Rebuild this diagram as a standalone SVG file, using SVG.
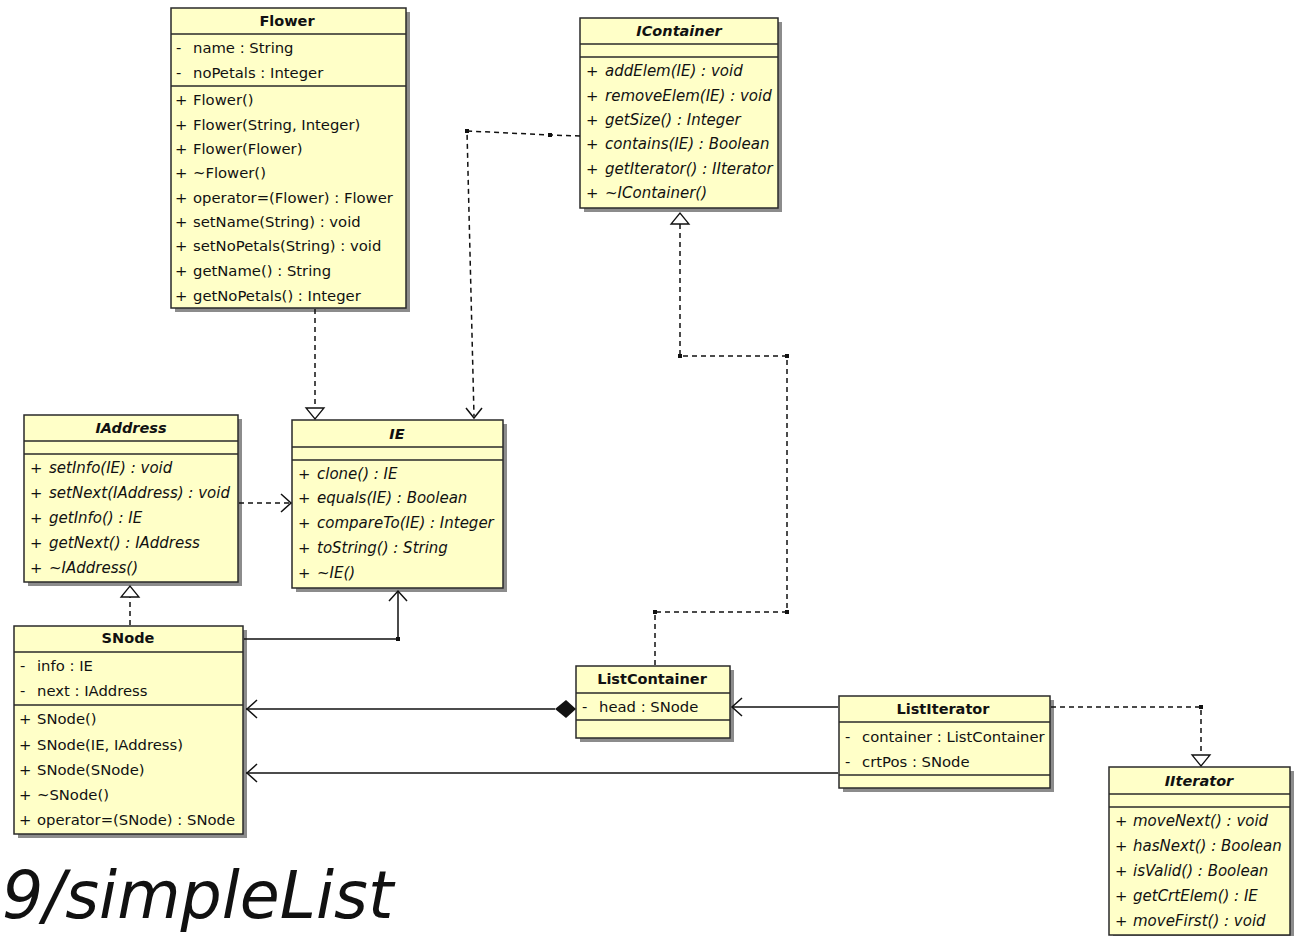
<svg xmlns="http://www.w3.org/2000/svg" width="1294" height="936" viewBox="0 0 1294 936">
<style>
.sh{fill:#8c8c8c}
.bx{fill:#ffffc8;stroke:#2a2a2a;stroke-width:1.5}
.sep{stroke:#2a2a2a;stroke-width:1.5}
text{font-family:"DejaVu Sans","Liberation Sans",sans-serif;font-size:14.8px;fill:#111}
.t{font-weight:bold;font-size:14.5px;text-anchor:middle}
.ti{font-weight:bold;font-style:italic;font-size:14.5px;text-anchor:middle}
.i{font-style:italic;font-size:15px}
.d{fill:none;stroke:#111;stroke-width:1.5;stroke-dasharray:5 4}
.s{fill:none;stroke:#111;stroke-width:1.5}
.tri{fill:#fff;stroke:#111;stroke-width:1.3}
.big{font-family:"DejaVu Sans",sans-serif;font-style:italic;font-size:65px}
</style>
<rect width="1294" height="936" fill="#fff"/>

<g id="Flower">
<rect class="sh" x="175" y="12" width="235" height="300"/>
<rect class="bx" x="171" y="8" width="235" height="300"/>
<line class="sep" x1="171" y1="34" x2="406" y2="34"/>
<line class="sep" x1="171" y1="86" x2="406" y2="86"/>
<text class="t" x="287" y="26">Flower</text>
<text x="176" y="53">-</text><text x="193" y="53">name : String</text>
<text x="176" y="78">-</text><text x="193" y="78">noPetals : Integer</text>
<text x="175" y="105">+</text><text x="193" y="105">Flower()</text>
<text x="175" y="130">+</text><text x="193" y="130">Flower(String, Integer)</text>
<text x="175" y="154">+</text><text x="193" y="154">Flower(Flower)</text>
<text x="175" y="178">+</text><text x="193" y="178">~Flower()</text>
<text x="175" y="203">+</text><text x="193" y="203">operator=(Flower) : Flower</text>
<text x="175" y="227">+</text><text x="193" y="227">setName(String) : void</text>
<text x="175" y="251">+</text><text x="193" y="251">setNoPetals(String) : void</text>
<text x="175" y="276">+</text><text x="193" y="276">getName() : String</text>
<text x="175" y="301">+</text><text x="193" y="301">getNoPetals() : Integer</text>
</g>

<g id="IContainer">
<rect class="sh" x="584" y="22" width="198" height="190"/>
<rect class="bx" x="580" y="18" width="198" height="190"/>
<line class="sep" x1="580" y1="44" x2="778" y2="44"/>
<line class="sep" x1="580" y1="57" x2="778" y2="57"/>
<text class="ti" x="679" y="36">IContainer</text>
<text x="586" y="76">+</text><text class="i" x="605" y="76">addElem(IE) : void</text>
<text x="586" y="101">+</text><text class="i" x="605" y="101">removeElem(IE) : void</text>
<text x="586" y="125">+</text><text class="i" x="605" y="125">getSize() : Integer</text>
<text x="586" y="149">+</text><text class="i" x="605" y="149">contains(IE) : Boolean</text>
<text x="586" y="174">+</text><text class="i" x="605" y="174">getIterator() : IIterator</text>
<text x="586" y="198">+</text><text class="i" x="605" y="198">~IContainer()</text>
</g>

<g id="IAddress">
<rect class="sh" x="28" y="419" width="214" height="167"/>
<rect class="bx" x="24" y="415" width="214" height="167"/>
<line class="sep" x1="24" y1="441" x2="238" y2="441"/>
<line class="sep" x1="24" y1="454" x2="238" y2="454"/>
<text class="ti" x="131" y="433">IAddress</text>
<text x="30" y="473">+</text><text class="i" x="49" y="473">setInfo(IE) : void</text>
<text x="30" y="498">+</text><text class="i" x="49" y="498">setNext(IAddress) : void</text>
<text x="30" y="523">+</text><text class="i" x="49" y="523">getInfo() : IE</text>
<text x="30" y="548">+</text><text class="i" x="49" y="548">getNext() : IAddress</text>
<text x="30" y="573">+</text><text class="i" x="49" y="573">~IAddress()</text>
</g>

<g id="IE">
<rect class="sh" x="296" y="424" width="211" height="168"/>
<rect class="bx" x="292" y="420" width="211" height="168"/>
<line class="sep" x1="292" y1="447" x2="503" y2="447"/>
<line class="sep" x1="292" y1="460" x2="503" y2="460"/>
<text class="ti" x="397" y="439">IE</text>
<text x="298" y="479">+</text><text class="i" x="317" y="479">clone() : IE</text>
<text x="298" y="503">+</text><text class="i" x="317" y="503">equals(IE) : Boolean</text>
<text x="298" y="528">+</text><text class="i" x="317" y="528">compareTo(IE) : Integer</text>
<text x="298" y="553">+</text><text class="i" x="317" y="553">toString() : String</text>
<text x="298" y="578">+</text><text class="i" x="317" y="578">~IE()</text>
</g>

<g id="SNode">
<rect class="sh" x="18" y="630" width="229" height="208"/>
<rect class="bx" x="14" y="626" width="229" height="208"/>
<line class="sep" x1="14" y1="652" x2="243" y2="652"/>
<line class="sep" x1="14" y1="705" x2="243" y2="705"/>
<text class="t" x="128" y="643">SNode</text>
<text x="20" y="671">-</text><text x="37" y="671">info : IE</text>
<text x="20" y="696">-</text><text x="37" y="696">next : IAddress</text>
<text x="19" y="724">+</text><text x="37" y="724">SNode()</text>
<text x="19" y="750">+</text><text x="37" y="750">SNode(IE, IAddress)</text>
<text x="19" y="775">+</text><text x="37" y="775">SNode(SNode)</text>
<text x="19" y="800">+</text><text x="37" y="800">~SNode()</text>
<text x="19" y="825">+</text><text x="37" y="825">operator=(SNode) : SNode</text>
</g>

<g id="ListContainer">
<rect class="sh" x="580" y="670" width="154" height="72"/>
<rect class="bx" x="576" y="666" width="154" height="72"/>
<line class="sep" x1="576" y1="693" x2="730" y2="693"/>
<line class="sep" x1="576" y1="720" x2="730" y2="720"/>
<text class="t" x="652" y="684">ListContainer</text>
<text x="582" y="712">-</text><text x="599" y="712">head : SNode</text>
</g>

<g id="ListIterator">
<rect class="sh" x="843" y="700" width="211" height="92"/>
<rect class="bx" x="839" y="696" width="211" height="92"/>
<line class="sep" x1="839" y1="722" x2="1050" y2="722"/>
<line class="sep" x1="839" y1="775" x2="1050" y2="775"/>
<text class="t" x="943" y="714">ListIterator</text>
<text x="845" y="742">-</text><text x="862" y="742">container : ListContainer</text>
<text x="845" y="767">-</text><text x="862" y="767">crtPos : SNode</text>
</g>

<g id="IIterator">
<rect class="sh" x="1113" y="771" width="181" height="168"/>
<rect class="bx" x="1109" y="767" width="181" height="168"/>
<line class="sep" x1="1109" y1="794" x2="1290" y2="794"/>
<line class="sep" x1="1109" y1="807" x2="1290" y2="807"/>
<text class="ti" x="1199" y="786">IIterator</text>
<text x="1115" y="826">+</text><text class="i" x="1133" y="826">moveNext() : void</text>
<text x="1115" y="851">+</text><text class="i" x="1133" y="851">hasNext() : Boolean</text>
<text x="1115" y="876">+</text><text class="i" x="1133" y="876">isValid() : Boolean</text>
<text x="1115" y="901">+</text><text class="i" x="1133" y="901">getCrtElem() : IE</text>
<text x="1115" y="926">+</text><text class="i" x="1133" y="926">moveFirst() : void</text>
</g>

<g id="connectors">
<path class="d" d="M315,309 V408"/>
<path class="tri" d="M306,408 L324,408 L315,419 Z"/>
<path class="d" d="M580,136 L550,135 L467,131 L474,416"/>
<path class="s" d="M466,408 L474,418 L482,408"/>
<rect x="465" y="129" width="4" height="4" fill="#111"/>
<rect x="548" y="133" width="4" height="4" fill="#111"/>
<path class="d" d="M239,503 H290"/>
<path class="s" d="M281,494 L291,503 L281,512"/>
<path class="d" d="M130,625 V597"/>
<path class="tri" d="M121,597 L139,597 L130,586 Z"/>
<path class="s" d="M244,639 H398 V591"/>
<path class="s" d="M389,601 L398,591 L407,601"/>
<rect x="396" y="637" width="4" height="4" fill="#111"/>
<path class="s" d="M555,709 H246"/>
<path class="s" d="M257,700 L247,709 L257,718"/>
<path d="M576,709 L566,700 L555,709 L566,718 Z" fill="#111"/>
<path class="d" d="M655,665 V612 H787 V356 H680 V224"/>
<path class="tri" d="M671,224 L689,224 L680,213 Z"/>
<rect x="653" y="610" width="4" height="4" fill="#111"/>
<rect x="785" y="610" width="4" height="4" fill="#111"/>
<rect x="785" y="354" width="4" height="4" fill="#111"/>
<rect x="678" y="354" width="4" height="4" fill="#111"/>
<path class="s" d="M838,707 H732"/>
<path class="s" d="M742,698 L732,707 L742,716"/>
<path class="s" d="M838,773 H246"/>
<path class="s" d="M257,764 L247,773 L257,782"/>
<path class="d" d="M1051,707 H1201 V755"/>
<path class="tri" d="M1192,755 L1210,755 L1201,766 Z"/>
<rect x="1199" y="705" width="4" height="4" fill="#111"/>
</g>

<text class="big" x="2" y="918">9/simpleList</text>
</svg>
